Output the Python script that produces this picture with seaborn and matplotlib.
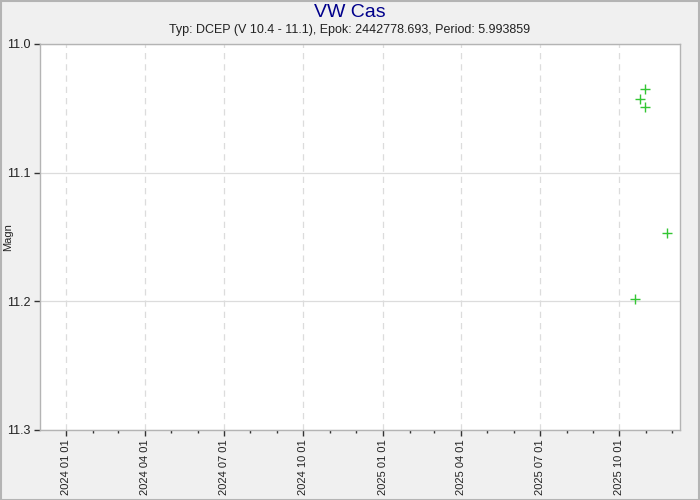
import pandas as pd
import numpy as np
import matplotlib
matplotlib.use("Agg")
import matplotlib.pyplot as plt
import matplotlib.dates as mdates
import seaborn as sns

obs_dates = ["2025-10-19", "2025-10-25", "2025-10-31", "2025-10-31", "2025-11-25"]
obs_magn = [11.198, 11.043, 11.035, 11.049, 11.147]

title = "VW Cas"
subtitle = "Typ: DCEP (V 10.4 - 11.1), Epok: 2442778.693, Period: 5.993859"

df = pd.DataFrame({"date": pd.to_datetime(obs_dates), "magn": obs_magn})

sns.set_theme(style="white")
plt.rcParams["font.family"] = ["Liberation Sans", "DejaVu Sans"]

fig = plt.figure(figsize=(7, 5), dpi=100, facecolor="#f0f0f0")
ax = fig.add_axes([40 / 700, 70 / 500, 640 / 700, 386 / 500])
ax.set_facecolor("white")

sns.scatterplot(data=df, x="date", y="magn", marker="+", color="#33c633",
                s=45, linewidth=1.0, ax=ax)

ax.set_xlim(pd.Timestamp("2023-12-02"), pd.Timestamp("2025-12-10"))
ax.set_ylim(11.3, 11.0)
ax.set_yticks([11.0, 11.1, 11.2, 11.3])
ax.yaxis.set_major_formatter(matplotlib.ticker.FormatStrFormatter("%.1f"))

ax.xaxis.set_major_locator(mdates.MonthLocator(bymonth=[1, 4, 7, 10]))
ax.xaxis.set_minor_locator(mdates.MonthLocator())
ax.xaxis.set_major_formatter(mdates.DateFormatter("%Y %m %d"))
plt.setp(ax.get_xticklabels(), rotation=90)

ax.grid(True, axis="x", which="major", linestyle=(0, (5, 4)), color="#dcdcdc", linewidth=0.9)
ax.grid(True, axis="y", which="major", linestyle="-", color="#dcdcdc", linewidth=0.9)

ax.tick_params(axis="y", which="major", direction="out", length=4, width=1,
               color="#333333", labelsize=9, labelcolor="#222222", left=True, pad=3)
ax.tick_params(axis="x", which="major", direction="out", length=4, width=1,
               color="#333333", labelsize=8, labelcolor="#222222", bottom=True, pad=3)
ax.tick_params(axis="x", which="minor", direction="out", length=2, width=1,
               color="#333333", bottom=True)
for s in ax.spines.values():
    s.set_color("#b4b4b4")
    s.set_linewidth(1)

ax.set_xlabel("")
ax.set_ylabel("Magn", fontsize=8, color="#222222")
ax.yaxis.set_label_coords(-27 / 640, 0.5)

fig.text(0.5, 0.975, title, ha="center", va="center", fontsize=14, color="#00008b")
fig.text(0.5, 0.941, subtitle, ha="center", va="center", fontsize=9, color="#222222")

fig.patches.append(matplotlib.patches.Rectangle((0.001, 0.001), 0.998, 0.998,
                                                transform=fig.transFigure, fill=False,
                                                edgecolor="#b4b4b4", linewidth=1.5))

fig.savefig("out.png", dpi=100, facecolor=fig.get_facecolor())
